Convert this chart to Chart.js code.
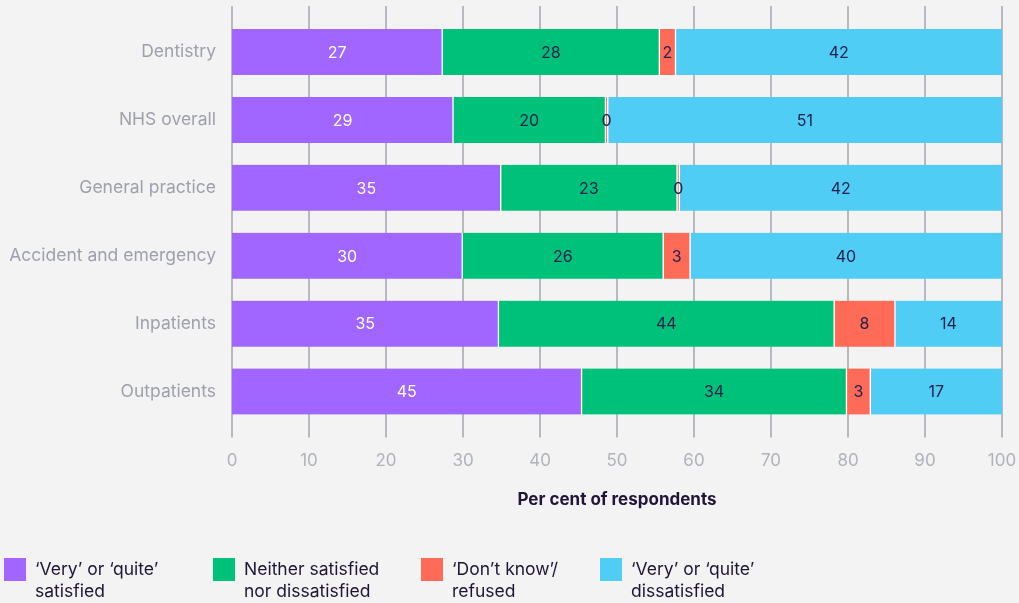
<!DOCTYPE html>
<html>
<head>
<meta charset="utf-8">
<script src="https://cdn.jsdelivr.net/npm/chart.js@4"></script>
<style>
  html, body { margin: 0; padding: 0; background: #f3f3f3; }
  #wrap { position: relative; width: 1019px; height: 603px; font-family: Inter, "Noto Sans", sans-serif; }
  #axisTitle { position: absolute; left: 232px; width: 770px; top: 489px; text-align: center;
    font-weight: 700; font-size: 17px; color: #1e1538; }
  .leg { position: absolute; top: 558px; font-size: 17.5px; line-height: 22px; color: #1e1538; }
  .leg span.box { position: absolute; left: 0; top: 0; width: 22px; height: 23px; }
  .leg span.txt { position: absolute; left: 31px; top: 0; white-space: nowrap; }
</style>
</head>
<body>
<div id="wrap">
  <canvas id="myChart" width="1019" height="603"></canvas>
  <div id="axisTitle">Per cent of respondents</div>
  <div id="legend"></div>
</div>
<script>
// categories
var categories = ['Dentistry', 'NHS overall', 'General practice', 'Accident and emergency', 'Inpatients', 'Outpatients'];

// series values (per cent)
var satisfied    = [27.3, 28.7, 34.9, 29.9, 34.6, 45.4];
var neither      = [28.2, 19.8, 22.9, 26.1, 43.6, 34.4];
var dontKnow     = [2.1, 0.3, 0.3, 3.49, 7.9, 3.1];
var dissatisfied = [42.4, 51.2, 41.9, 40.49, 13.9, 17.1];

var seriesNames = [
    ['\u2018Very\u2019 or \u2018quite\u2019', 'satisfied'],
    ['Neither satisfied', 'nor dissatisfied'],
    ['\u2018Don\u2019t know\u2019/', 'refused'],
    ['\u2018Very\u2019 or \u2018quite\u2019', 'dissatisfied']
];
var seriesColors = ['#a066ff', '#00c17a', '#ff6b57', '#4fcdf4'];
var labelColors = ['#ffffff', '#25214d', '#25214d', '#25214d'];

// x axis ticks
var xTicks = [0, 10, 20, 30, 40, 50, 60, 70, 80, 90, 100];

var font = 'Inter, "Noto Sans", sans-serif';

// vertical grid lines that run a little past the plot area
var gridPlugin = {
    id: 'gridLines',
    beforeDatasetsDraw: function (chart) {
        var ctx = chart.ctx;
        var x = chart.scales.x;
        var area = chart.chartArea;
        ctx.save();
        ctx.strokeStyle = '#b7b9c0';
        ctx.lineWidth = 2;
        xTicks.forEach(function (t) {
            var px = Math.round(x.getPixelForValue(t));
            ctx.beginPath();
            ctx.moveTo(px, area.top - 12);
            ctx.lineTo(px, area.bottom + 12);
            ctx.stroke();
        });
        ctx.restore();
    }
};

// value labels in the middle of each segment
var valuePlugin = {
    id: 'valueLabels',
    afterDatasetsDraw: function (chart) {
        var ctx = chart.ctx;
        ctx.save();
        ctx.font = '16px ' + font;
        ctx.textAlign = 'center';
        ctx.textBaseline = 'middle';
        chart.data.datasets.forEach(function (ds, i) {
            var meta = chart.getDatasetMeta(i);
            meta.data.forEach(function (bar, j) {
                var p = bar.getProps(['x', 'y', 'base']);
                ctx.fillStyle = labelColors[i];
                ctx.fillText(Math.round(ds.data[j]), (p.x + p.base) / 2, p.y + 1);
            });
        });
        ctx.restore();
    }
};

function borders(i) {
    return { left: i === 0 ? 0 : 1, right: i === 3 ? 0 : 1, top: 0, bottom: 0 };
}

var allData = [satisfied, neither, dontKnow, dissatisfied];

var ctx = document.getElementById('myChart').getContext('2d');
var chart = new Chart(ctx, {
    type: 'bar',
    data: {
        labels: categories,
        datasets: allData.map(function (d, i) {
            return {
                label: seriesNames[i].join(' '),
                data: d,
                backgroundColor: seriesColors[i],
                borderColor: '#ffffff',
                borderWidth: borders(i),
                borderSkipped: false,
                barThickness: 46
            };
        })
    },
    plugins: [gridPlugin, valuePlugin],
    options: {
        indexAxis: 'y',
        responsive: false,
        animation: false,
        layout: { padding: { top: 18, right: 17, left: 0, bottom: 0 } },
        plugins: {
            legend: { display: false },
            tooltip: { enabled: false }
        },
        scales: {
            x: {
                stacked: true,
                min: 0,
                max: 100,
                grid: { display: false, drawTicks: false },
                border: { display: false },
                ticks: {
                    stepSize: 10,
                    padding: 25,
                    color: '#b0b3bb',
                    font: { family: font, size: 17 }
                },
                afterFit: function (scale) {
                    scale.height = 177.5;
                    scale.paddingLeft = 0;
                    scale.paddingRight = 0;
                }
            },
            y: {
                stacked: true,
                grid: { display: false, drawTicks: false },
                border: { display: false },
                ticks: {
                    padding: 16,
                    color: '#9ea1ab',
                    font: { family: font, size: 17.5 }
                },
                afterFit: function (scale) {
                    scale.width = 232;
                    scale.paddingTop = 0;
                    scale.paddingBottom = 0;
                }
            }
        }
    }
});

// legend below the chart
var legendLeft = [4, 213, 421, 600];
var legend = document.getElementById('legend');
seriesNames.forEach(function (name, i) {
    var item = document.createElement('div');
    item.className = 'leg';
    item.style.left = legendLeft[i] + 'px';
    item.innerHTML = '<span class="box" style="background:' + seriesColors[i] + '"></span>' +
        '<span class="txt">' + name[0] + '<br>' + name[1] + '</span>';
    legend.appendChild(item);
});
</script>
</body>
</html>
